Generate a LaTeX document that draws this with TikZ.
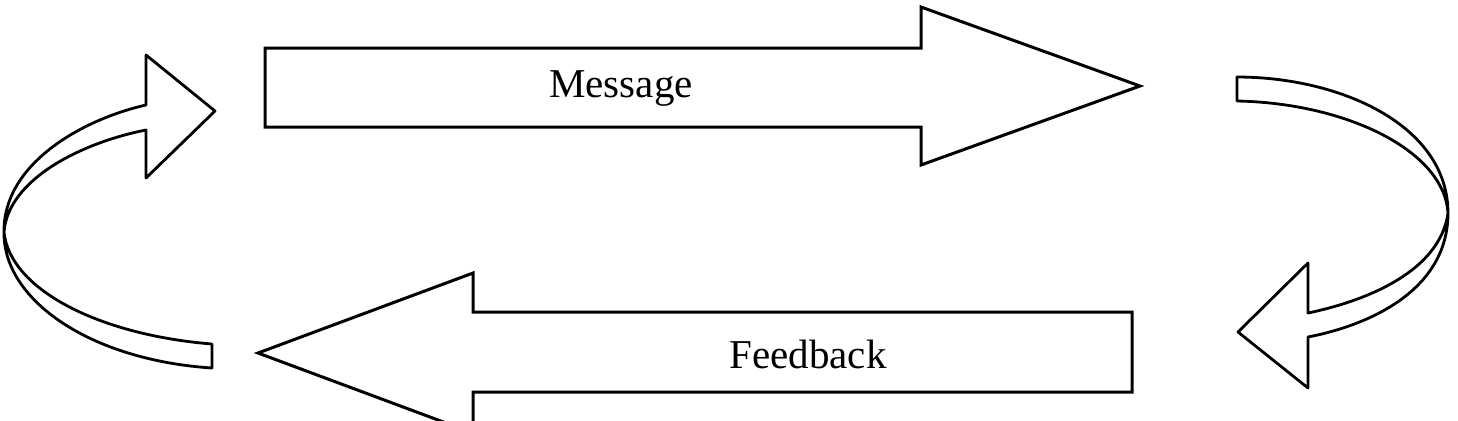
\documentclass[tikz,border=0pt]{standalone}
\usepackage{fontspec}
\setmainfont{Liberation Serif}
\usetikzlibrary{positioning,calc}
\tikzset{
  blockarr/.style={draw=black, line width=1.5pt, line join=miter, fill=white},
  ribbon/.style={draw=black, line width=1.4pt, line join=round, fill=white},
  lbl/.style={font=\fontsize{20.5}{24}\selectfont, inner sep=0pt},
}
\begin{document}
\begin{tikzpicture}[x=0.5pt, y=-0.5pt]
  \useasboundingbox (0,0) rectangle (1458,420);
  \clip (0,0) rectangle (1458,420);
  % straight arrows
  \draw[blockarr] (265,48) -- (921,48) -- (921,7) -- (1140,86) -- (921,165) -- (921,127) -- (265,127) -- cycle;
  \draw[blockarr] (1132,312) -- (473,312) -- (473,273) -- (258,353) -- (473,433) -- (473,392) -- (1132,392) -- cycle;
  \node[lbl] (msg) at (621,88) {Message};
  \node[lbl] (fb) at (808,354) {Feedback};
  % left curved arrow
  \draw[ribbon] (146,105) -- (146,55) -- (215,111) -- (146,178) -- (146,130)
    .. controls (80,143) and (8,180) .. (4,232)
    .. controls (10,290) and (100,335) .. (212,344) -- (212,368)
    .. controls (90,360) and (3,300) .. (4,232)
    .. controls (3,165) and (80,120) .. (146,105) -- cycle;
  % right curved arrow
  \draw[ribbon] (1237,77) .. controls (1340,77) and (1448,125) .. (1448,213)
    .. controls (1448,290) and (1370,325) .. (1308,337) -- (1308,388) -- (1238,332) -- (1308,263) -- (1308,313)
    .. controls (1370,300) and (1440,270) .. (1448,213)
    .. controls (1444,150) and (1345,103) .. (1237,101) -- cycle;
\end{tikzpicture}
\end{document}
